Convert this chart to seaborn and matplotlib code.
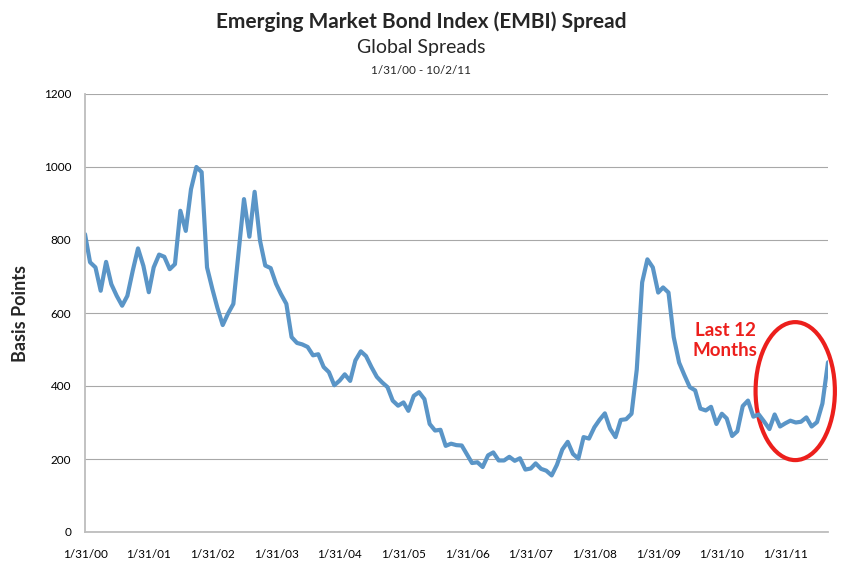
import matplotlib
matplotlib.use('Agg')
import matplotlib.pyplot as plt
import matplotlib.dates as mdates
from matplotlib.patches import Ellipse
import seaborn as sns
import pandas as pd

# EMBI global spread, basis points (monthly, 1/31/00 - 10/2/11)
spread_bp = [
    816, 739, 725, 661, 740, 679, 647, 620, 647, 716, 777, 729,   # 2000
    657, 725, 760, 754, 720, 734, 880, 825, 939, 1000, 986, 725,  # 2001
    665, 615, 567, 598, 625, 765, 912, 809, 932, 798, 730, 723,   # 2002
    680, 652, 625, 534, 518, 514, 507, 484, 487, 452, 438, 402,   # 2003
    415, 432, 414, 470, 495, 482, 452, 425, 410, 397, 360, 346,   # 2004
    355, 332, 373, 383, 364, 296, 278, 280, 236, 242, 238, 237,   # 2005
    212, 189, 191, 178, 210, 218, 196, 196, 206, 195, 202, 171,   # 2006
    174, 188, 173, 168, 155, 184, 226, 247, 214, 201, 260, 256,   # 2007
    287, 307, 325, 283, 260, 307, 309, 324, 445, 684, 747, 725,   # 2008
    656, 670, 656, 534, 464, 430, 397, 388, 338, 333, 343, 296,   # 2009
    324, 311, 263, 276, 345, 360, 316, 322, 303, 282, 322, 289,   # 2010
    298, 305, 300, 302, 314, 289, 301, 352, 465,                  # 2011
]
month_ends = list(pd.date_range('2000-01-31', periods=len(spread_bp) - 1, freq='ME'))
dates = month_ends + [pd.Timestamp('2011-10-02')]
tick_dates = [pd.Timestamp(f'{y}-01-31') for y in range(2000, 2012)]
tick_labels = [f'1/31/{y % 100:02d}' for y in range(2000, 2012)]
y_ticks = [0, 200, 400, 600, 800, 1000, 1200]

LINE_BLUE = '#5a95c7'
RED = '#ec1f1c'

df = pd.DataFrame({'date': dates, 'spread': spread_bp})

sns.set_theme(style='white')
plt.rcParams['font.family'] = ['Lato', 'DejaVu Sans']

fig = plt.figure(figsize=(8.42, 5.71), dpi=100)
ax = fig.add_axes([85 / 842, 1 - 532 / 571, 743 / 842, 438 / 571])

sns.lineplot(data=df, x='date', y='spread', color=LINE_BLUE, linewidth=3, ax=ax)

ax.set_xlim(dates[0], dates[-1])
ax.set_ylim(0, 1200)
ax.set_yticks(y_ticks)
ax.set_xticks(tick_dates)
ax.set_xticklabels(tick_labels)
ax.tick_params(axis='both', labelsize=8.5, colors='#000000', length=4, width=0.8,
               direction='out', color='#9a9a9a')
ax.tick_params(axis='x', pad=8)
ax.tick_params(axis='y', pad=6)
ax.yaxis.grid(True, color='#a8a8a8', linewidth=0.8)
ax.set_axisbelow(True)
for side in ['top', 'right']:
    ax.spines[side].set_visible(False)
for side in ['left', 'bottom']:
    ax.spines[side].set_color('#bdbdbd')
    ax.spines[side].set_linewidth(1.3)

ax.set_xlabel(None)
ax.set_ylabel('Basis Points', fontsize=13, fontweight='bold')
ax.yaxis.set_label_coords(-0.076, 0.5)

# titles
fig.text(0.5, 1 - 22 / 571, 'Emerging Market Bond Index (EMBI) Spread',
         ha='center', va='center', fontsize=15, fontweight='bold')
fig.text(0.5, 1 - 47 / 571, 'Global Spreads', ha='center', va='center', fontsize=14)
fig.text(0.5, 1 - 70 / 571, '1/31/00 - 10/2/11', ha='center', va='center', fontsize=8.5)

# "Last 12 Months" callout
ax.text(mdates.date2num(pd.Timestamp('2010-02-20')), 525, 'Last 12\nMonths',
        ha='center', va='center', color=RED, fontsize=13.5, fontweight='bold',
        linespacing=1.2)
ell = Ellipse((mdates.date2num(pd.Timestamp('2011-03-28')), 386), width=455, height=378,
              fill=False, edgecolor=RED, linewidth=3, clip_on=False)
ax.add_patch(ell)

plt.savefig('out.png', dpi=100)
plt.close()
